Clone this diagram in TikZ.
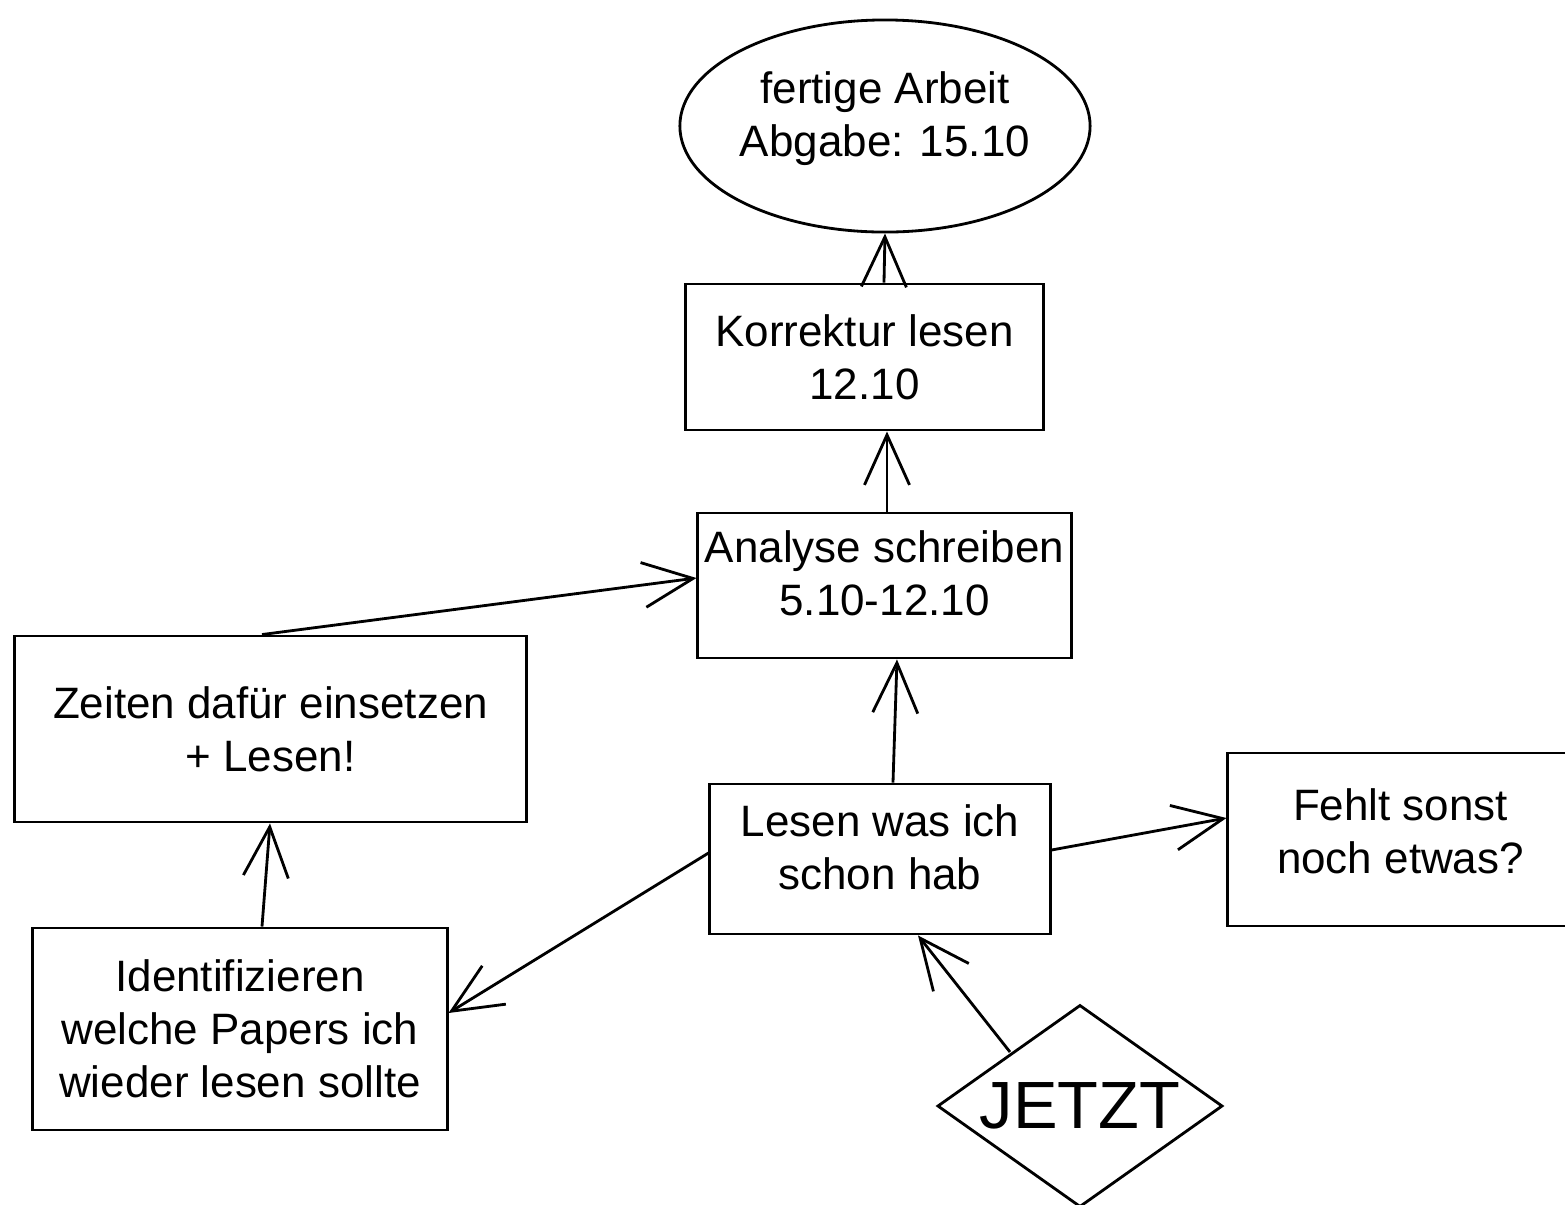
\documentclass[tikz,border=0pt]{standalone}
\usepackage{fontspec}
\setmainfont{Liberation Sans}
\usetikzlibrary{shapes.geometric,arrows.meta}
\begin{document}
\begin{tikzpicture}[x=0.01cm,y=-0.01cm,
  box/.style={draw,line width=0.8pt,inner sep=0pt,align=center,font=\fontsize{12.5}{15}\selectfont},
  conn/.style={line width=0.8pt,-{Straight Barb[length=5mm,width=4.5mm,line width=0.8pt]}}]
\useasboundingbox (0,0) rectangle (1565,1205);
\node[box,ellipse,inner sep=-5mm,minimum width=4.1cm,minimum height=2.12cm] (goal) at (885,126) {fertige Arbeit\\Abgabe: 15.10\\[-8pt]\mbox{}};
\node[box,minimum width=3.57cm,minimum height=1.46cm] (korr) at (864.5,357) {Korrektur lesen\\12.10};
\node[box,minimum width=3.73cm,minimum height=1.45cm] (ana) at (884.5,585.5) {Analyse schreiben\\5.10-12.10\\[-8pt]\mbox{}};
\node[box,minimum width=5.11cm,minimum height=1.86cm] (zeit) at (270.5,729) {Zeiten dafür einsetzen\\+ Lesen!};
\node[box,minimum width=3.40cm,minimum height=1.50cm] (lesen) at (880,859) {Lesen was ich\\schon hab\\[-8pt]\mbox{}};
\node[box,minimum width=3.45cm,minimum height=1.73cm] (fehlt) at (1400.5,839.5) {Fehlt sonst\\noch etwas?\\[-10pt]\mbox{}};
\node[box,minimum width=4.14cm,minimum height=2.02cm] (ident) at (240,1029) {Identifizieren\\welche Papers ich\\wieder lesen sollte};
\node[box,diamond,aspect=1.41,inner sep=-4mm,minimum width=2.85cm,minimum height=2.02cm,font=\fontsize{19}{22}\selectfont] (jetzt) at (1080,1106) {JETZT};
\draw[conn] (korr.north -| 884,0) -- (goal.south);
\draw[conn] (ana.north -| 887,0) -- (korr.south -| 887,0);
\draw[conn] (lesen.north -| 893,0) -- (ana.south -| 897,0);
\draw[conn] (zeit.north -| 262,0) -- (ana.west |- 0,578);
\draw[conn] (ident.north -| 262,0) -- (zeit.south -| 270,0);
\draw[conn] (lesen.west |- 0,853) -- (ident.east |- 0,1013);
\draw[conn] (lesen.east |- 0,850) -- (fehlt.west |- 0,818);
\coordinate (jtl) at (1010,1052);
\draw[conn] (jtl) -- (lesen.south -| 918,0);
\end{tikzpicture}
\end{document}
